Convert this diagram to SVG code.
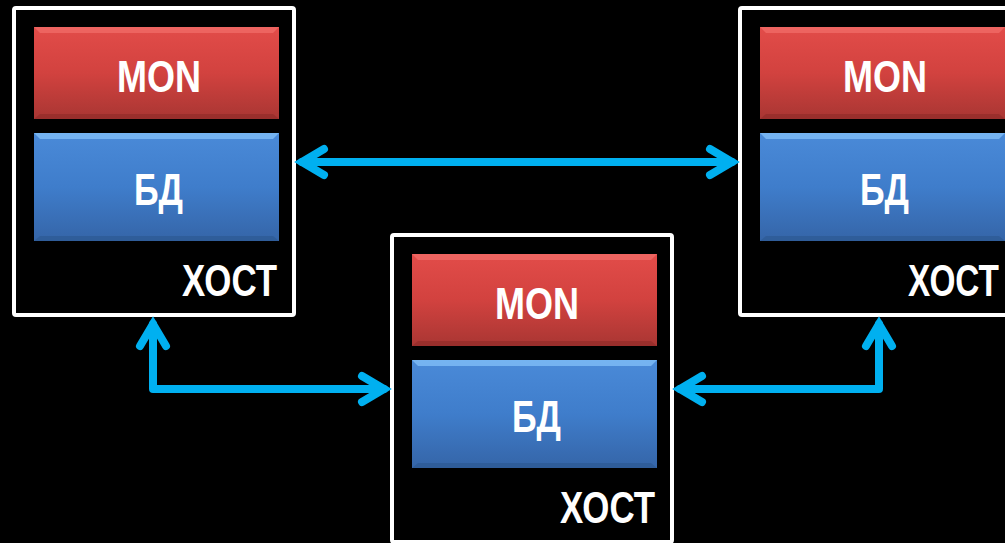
<svg xmlns="http://www.w3.org/2000/svg" xmlns:xlink="http://www.w3.org/1999/xlink" width="1005" height="543" viewBox="0 0 1005 543">
<defs>
<linearGradient id="gr" x1="0" y1="0" x2="0" y2="1">
<stop offset="0" stop-color="#e24c49"/>
<stop offset="0.5" stop-color="#d2423f"/>
<stop offset="1" stop-color="#a93633"/>
</linearGradient>
<linearGradient id="gb" x1="0" y1="0" x2="0" y2="1">
<stop offset="0" stop-color="#4a8ad8"/>
<stop offset="0.5" stop-color="#3f7dcb"/>
<stop offset="1" stop-color="#3565a8"/>
</linearGradient>
<path id="chev" d="M22,-13 L0,0 L22,13"/>
<g id="host">
<rect class="frame" x="2" y="2" width="280" height="307" rx="2"/>
<rect x="22" y="21" width="245" height="92" fill="url(#gr)"/>
<polygon points="22,21 267,21 261,27 28,27" fill="#f06a66" opacity="0.8"/>
<polygon points="22,113 267,113 261,108 28,108" fill="#8e2a28" opacity="0.6"/>
<rect x="22" y="127" width="245" height="108" fill="url(#gb)"/>
<polygon points="22,127 267,127 261,133 28,133" fill="#7ab8f4" opacity="0.9"/>
<polygon points="22,235 267,235 261,230 28,230" fill="#2c5690" opacity="0.6"/>
</g>
</defs>
<style>
.frame{fill:#000;stroke:#fff;stroke-width:4}
.t{font-family:"Liberation Sans",Arial,sans-serif;font-weight:bold;font-size:45px;fill:#fff}
.c{fill:none;stroke:#00b0f0;stroke-width:8;stroke-linecap:round;stroke-linejoin:round}
.h{fill:none;stroke:#00b0f0;stroke-width:8;stroke-linecap:round;stroke-linejoin:miter}
</style>
<rect width="1005" height="543" fill="#000"/>
<g id="host-left" transform="translate(12,6)">
<use xlink:href="#host"/>
<text class="t" x="105" y="86" textLength="84" lengthAdjust="spacingAndGlyphs">MON</text>
<text class="t" x="122" y="199" textLength="49" lengthAdjust="spacingAndGlyphs">БД</text>
<text class="t" x="170" y="290" textLength="95" lengthAdjust="spacingAndGlyphs">ХОСТ</text>
</g>
<g id="host-middle" transform="translate(390,233)">
<use xlink:href="#host"/>
<text class="t" x="105" y="86" textLength="84" lengthAdjust="spacingAndGlyphs">MON</text>
<text class="t" x="122" y="199" textLength="49" lengthAdjust="spacingAndGlyphs">БД</text>
<text class="t" x="170" y="290" textLength="95" lengthAdjust="spacingAndGlyphs">ХОСТ</text>
</g>
<g id="host-right" transform="translate(738,6)">
<use xlink:href="#host"/>
<text class="t" x="105" y="86" textLength="84" lengthAdjust="spacingAndGlyphs">MON</text>
<text class="t" x="122" y="199" textLength="49" lengthAdjust="spacingAndGlyphs">БД</text>
<text class="t" x="170" y="290" textLength="91" lengthAdjust="spacingAndGlyphs">ХОСТ</text>
</g>
<g id="connectors">
<path class="c" d="M302,162 H732"/>
<use class="h" xlink:href="#chev" transform="translate(302,162)"/>
<use class="h" xlink:href="#chev" transform="translate(732,162) rotate(180)"/>
<path class="c" d="M153,324 V389 H384"/>
<use class="h" xlink:href="#chev" transform="translate(153,324) rotate(90)"/>
<use class="h" xlink:href="#chev" transform="translate(384,389) rotate(180)"/>
<path class="c" d="M680,389 H879 V324"/>
<use class="h" xlink:href="#chev" transform="translate(680,389)"/>
<use class="h" xlink:href="#chev" transform="translate(879,324) rotate(90)"/>
</g>
</svg>
